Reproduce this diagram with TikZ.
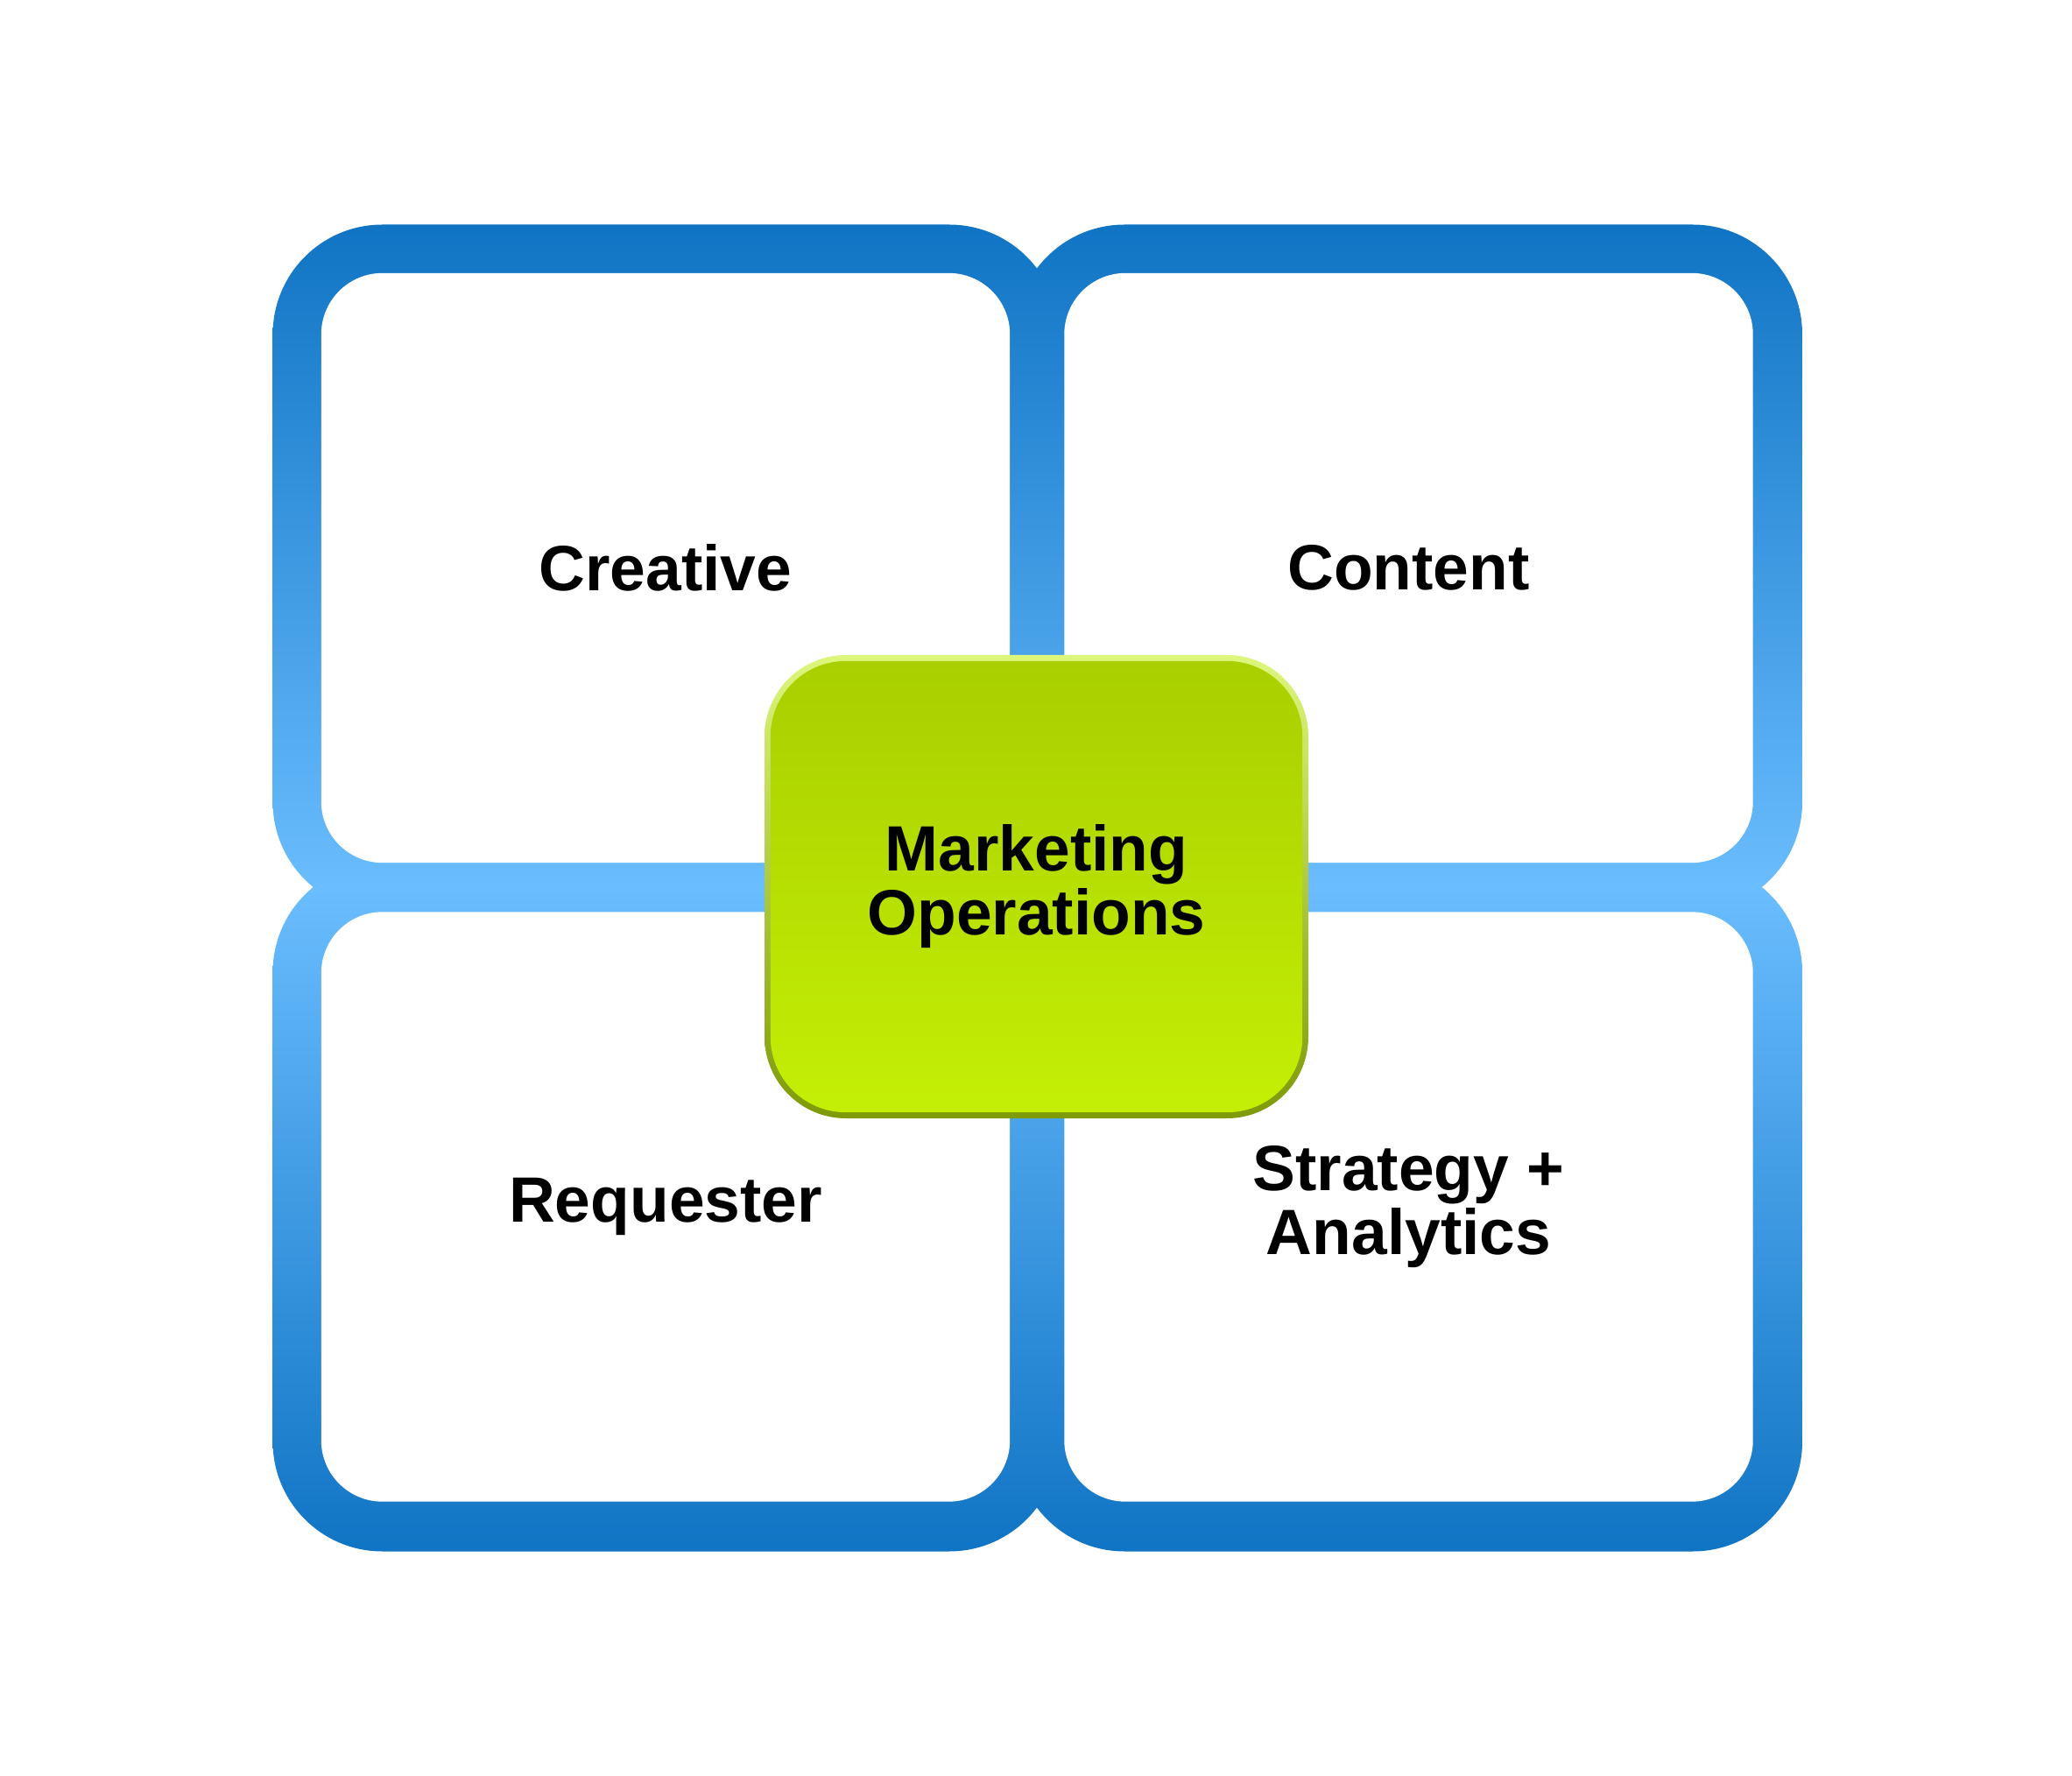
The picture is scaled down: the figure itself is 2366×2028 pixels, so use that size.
\documentclass[tikz,border=0pt]{standalone}
\usepackage{fontspec}
\setmainfont{Liberation Sans}
\definecolor{bdark}{RGB}{16,116,196}
\definecolor{blight}{RGB}{106,189,254}
\definecolor{gtop}{RGB}{169,207,0}
\definecolor{gbot}{RGB}{196,239,5}
\definecolor{gbtop}{RGB}{221,247,125}
\definecolor{gbbot}{RGB}{126,154,8}
\tikzset{
  cell/.style={fill=white, draw=none, rounded corners=0.70cm, inner sep=0pt,
    minimum width=7.86cm, minimum height=6.73cm, align=center,
    font=\fontsize{20.8pt}{21.2pt}\selectfont\bfseries},
  framefill/.style={top color=bdark, bottom color=bdark, middle color=blight},
  hub/.style={draw=none, rounded corners=0.86cm, inner sep=0pt,
    minimum width=6.07cm, minimum height=5.15cm, align=center,
    top color=gtop, bottom color=gbot,
    font=\fontsize{20.8pt}{20.8pt}\selectfont\bfseries}
}
\begin{document}
\begin{tikzpicture}[x=0.01cm,y=-0.01cm]
\useasboundingbox (0,0) rectangle (2366,2028);
\fill[white] (0,0) rectangle (2366,2028);
% blue frames (shaded outer shapes)
\foreach \xa/\ya/\xb/\yb in {311.5/256.5/1209/1041, 1159/256.5/2058/1041,
                             311.5/985/1209/1771.5, 1159/985/2058/1771.5}{
  \begin{scope}
    \clip[rounded corners=1.25cm] (\xa,\ya) rectangle (\xb,\yb);
    \shade[framefill] (300,256.5) rectangle (2070,1771.5);
  \end{scope}
}
% white cells with labels
\node[cell] (creative)  at (760,648.5)   {Creative};
\node[cell] (content)   at (1608.5,648.5) {Content};
\node[cell] (requester) at (760,1378)    {Requester};
\node[cell] (strategy)  at (1608.5,1378) {Strategy +\\[-0.5pt]Analytics};
% central hub: gradient rim then gradient fill
\shade[top color=gbtop, bottom color=gbbot, rounded corners=0.93cm]
  (873,748) rectangle (1494,1277);
\node[hub] (mops) at (1183.5,1012.5) {Marketing\\Operations};
\end{tikzpicture}
\end{document}
